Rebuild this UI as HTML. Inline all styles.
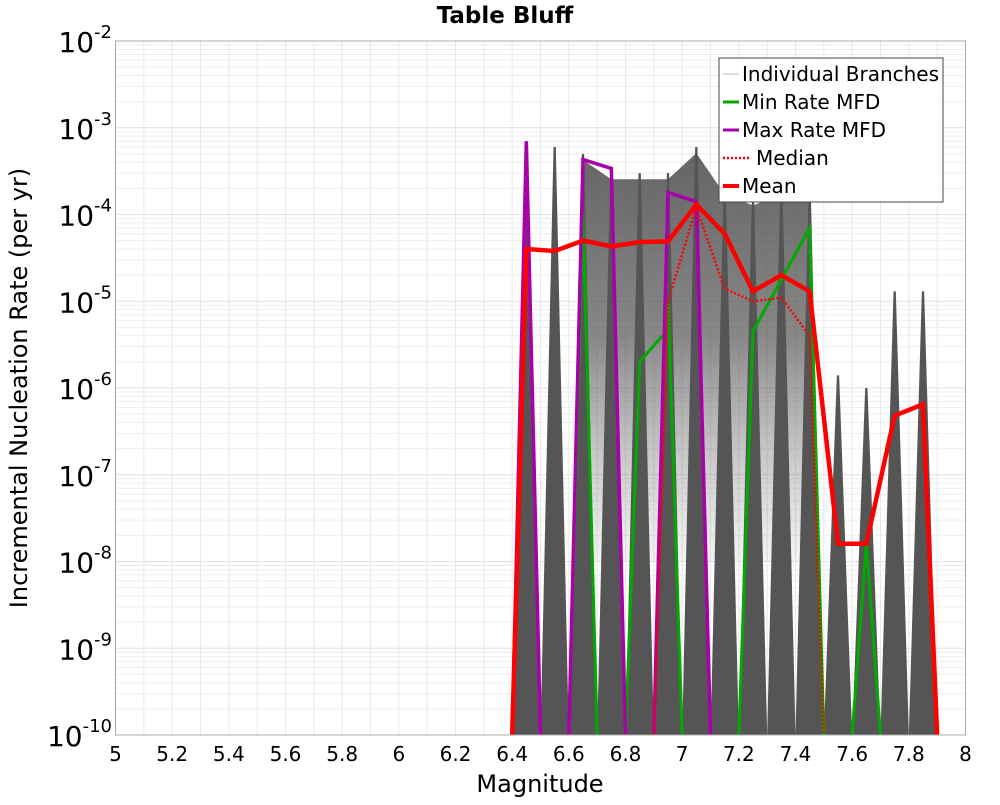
<!DOCTYPE html>
<html><head><meta charset="utf-8"><style>
body{margin:0;background:#fff;width:1000px;height:800px;overflow:hidden}
svg{font-family:"DejaVu Sans","Liberation Sans",sans-serif}
</style></head><body>
<svg id="chart" width="1000" height="800" viewBox="0 0 1000 800">
<defs><linearGradient id="bandGrad" x1="0" y1="0" x2="0" y2="1">
<stop offset="0" stop-color="#4a4a4a" stop-opacity="0.85"/>
<stop offset="0.45" stop-color="#555" stop-opacity="0.7"/>
<stop offset="1" stop-color="#888" stop-opacity="0.1"/>
</linearGradient></defs>
<text x="505" y="23" text-anchor="middle" font-size="23" font-weight="bold">Table Bluff</text>
<g id="grid"></g>
<g id="spikes"></g>
<g id="lines"></g>
<rect x="115.5" y="41" width="850" height="694" fill="none" stroke="#aaa"/>
<g id="xticks"></g><g id="yticks"></g>
<text x="540" y="792" text-anchor="middle" font-size="24">Magnitude</text>
<text transform="translate(27,388) rotate(-90)" text-anchor="middle" font-size="24">Incremental Nucleation Rate (per yr)</text>
<g>
<rect x="719" y="58" width="224" height="144" fill="#fff" stroke="#444"/>
<line x1="723" y1="74" x2="739" y2="74" stroke="#bbb" stroke-width="1"/><text x="742" y="81" font-size="20">Individual Branches</text>
<line x1="723" y1="102" x2="739" y2="102" stroke="#00aa00" stroke-width="3"/><text x="742" y="109" font-size="20">Min Rate MFD</text>
<line x1="723" y1="130" x2="739" y2="130" stroke="#aa00aa" stroke-width="3"/><text x="742" y="137" font-size="20">Max Rate MFD</text>
<line x1="723" y1="158" x2="750" y2="158" stroke="#ff0000" stroke-width="2.5" stroke-dasharray="2,2"/><text x="756" y="165" font-size="20">Median</text>
<line x1="723" y1="186" x2="739" y2="186" stroke="#ff0000" stroke-width="4"/><text x="742" y="193" font-size="20">Mean</text>
</g>
</svg>
<script>
const xTicks=[5,5.2,5.4,5.6,5.8,6,6.2,6.4,6.6,6.8,7,7.2,7.4,7.6,7.8,8];
const yExps=[-2,-3,-4,-5,-6,-7,-8,-9,-10];
const spikeMags=[6.45,6.55,6.65,6.75,6.85,6.95,7.05,7.15,7.25,7.35,7.45,7.55,7.65,7.75,7.85];
const spikePeaks=[7e-4,6e-4,5e-4,3e-4,3e-4,3e-4,6e-4,2e-4,1.5e-4,2e-4,1.8e-4,1.4e-6,1e-6,1.3e-5,1.3e-5];
const meanMags=[6.4,6.45,6.55,6.65,6.75,6.85,6.95,7.05,7.15,7.25,7.35,7.45,7.55,7.65,7.75,7.85,7.9];
const meanVals=[1e-10,4e-5,3.8e-5,5e-5,4.3e-5,4.8e-5,4.9e-5,1.3e-4,6e-5,1.3e-5,2e-5,1.3e-5,1.6e-8,1.6e-8,4.8e-7,6.5e-7,1e-10];
const medMags=[6.9,6.95,7.05,7.15,7.25,7.35,7.45,7.5];
const medVals=[1e-10,1e-5,1.2e-4,1.4e-5,1e-5,1.1e-5,4e-6,1e-10];
const maxSegs=[[[6.4,1e-10],[6.45,7e-4],[6.5,1e-10]],[[6.6,1e-10],[6.65,4.3e-4],[6.75,3.4e-4],[6.8,1e-10]],[[6.9,1e-10],[6.95,1.8e-4],[7.05,1.4e-4],[7.1,1e-10]]];
const minSegs=[[[6.6,1e-10],[6.65,1e-4],[6.7,1e-10]],[[6.8,1e-10],[6.85,2e-6],[6.93,4e-6]],[[6.95,1e-5],[7.0,1e-10]],[[7.2,1e-10],[7.25,4.5e-6],[7.45,7e-5],[7.5,1e-10]],[[7.6,1e-10],[7.65,1.6e-8],[7.7,1e-10]]];
const X=m=>115.5+(m-5)*850/3;
const Y=v=>41+(-2-Math.log10(v))*86.75;
const NS='http://www.w3.org/2000/svg';
function mk(t,p,a){const e=document.createElementNS(NS,t);for(const k in a)e.setAttribute(k,a[k]);p.appendChild(e);return e;}
const grid=document.getElementById('grid');
for(let m=5;m<=8.001;m+=0.1){const l=mk('line',grid,{x1:X(m),x2:X(m),y1:41,y2:735,stroke:'#e8e8e8'});

}
for(let e=-10;e<-2;e++)for(let k=1;k<10;k++){const v=k*Math.pow(10,e);const l=mk('line',grid,{x1:115.5,x2:965.5,y1:Y(v),y2:Y(v),stroke:k==1?'#e0e0e0':'#eeeeee'});

}
const sp=document.getElementById('spikes');
let band=[];for(let i=2;i<=10;i++)band.push(X(spikeMags[i])+','+Y(spikePeaks[i]*0.85));
band.push(X(spikeMags[10])+','+Y(1e-8));band.push(X(spikeMags[2])+','+Y(1e-8));
const b=mk('polygon',sp,{points:band.join(' '),fill:'url(#bandGrad)'});


spikeMags.forEach((m,i)=>{const p=mk('polygon',sp,{points:`${X(m-0.05)},735 ${X(m-0.004)},${Y(spikePeaks[i])} ${X(m+0.004)},${Y(spikePeaks[i])} ${X(m+0.05)},735`,fill:'#555'});

});
const ln=document.getElementById('lines');
function poly(pts,attrs,name){const p=mk('polyline',ln,Object.assign({points:pts.map(q=>X(q[0])+','+Y(q[1])).join(' '),fill:'none','stroke-linejoin':'miter'},attrs));

}
minSegs.forEach(s=>poly(s,{stroke:'#00aa00','stroke-width':3},'min-rate-line'));
maxSegs.forEach(s=>poly(s,{stroke:'#aa00aa','stroke-width':3.5},'max-rate-line'));
poly(medMags.map((m,i)=>[m,medVals[i]]),{stroke:'#ff0000','stroke-width':2.5,'stroke-dasharray':'2,2'},'median-line');
poly(meanMags.map((m,i)=>[m,meanVals[i]]),{stroke:'#ff0000','stroke-width':4.5},'mean-line');
const xt=document.getElementById('xticks');
xTicks.forEach(t=>{const e=mk('text',xt,{x:X(t),y:761,'text-anchor':'middle','font-size':20});e.textContent=String(t);

});
const yt=document.getElementById('yticks');
yExps.forEach(e=>{const t=mk('text',yt,{x:112,y:Y(Math.pow(10,e))+11,'text-anchor':'end','font-size':28});


t.innerHTML='10<tspan dy="-14" font-size="18">'+e+'</tspan>';});
</script>
</body></html>
